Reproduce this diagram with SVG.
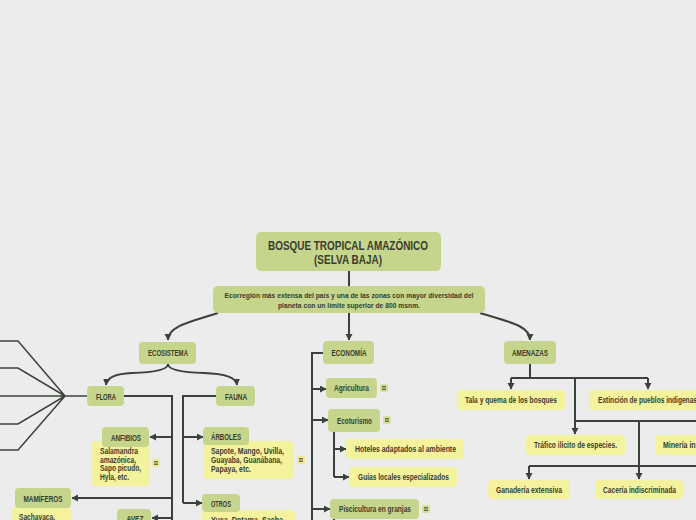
<svg xmlns="http://www.w3.org/2000/svg" width="696" height="520" viewBox="0 0 696 520">
<style>
text{font-family:"Liberation Sans Narrow","Liberation Sans",Arial,sans-serif;font-weight:bold;fill:#383d30;}
.g{fill:#c6d58c;}
.y{fill:#f4f29d;}
.ln{fill:none;stroke:#3a423a;stroke-width:2;}
.fan{fill:none;stroke:#3a423a;stroke-width:1.5;}
.t{font-size:12.8px;}
.d{font-size:7.4px;}
.l{font-size:8.2px;}
.n{font-size:8.2px;}
.ig{fill:#d5df9c;}
.iy{fill:#eeeb95;}
.il{stroke:#4a4f3f;stroke-width:0.8;}
</style>
<defs>
<marker id="a" markerUnits="userSpaceOnUse" markerWidth="8" markerHeight="8" refX="6" refY="3.5" orient="auto">
<path d="M0,0 L6.5,3.5 L0,7 z" fill="#3a423a"/>
</marker>
</defs>
<rect width="696" height="520" fill="#ececec"/>

<g id="connectors">
<path class="ln" d="M349 271 V286"/>
<path class="ln" d="M349 313 V340" marker-end="url(#a)"/>
<path class="ln" d="M218 313 C190 322 168 326 168 340" marker-end="url(#a)"/>
<path class="ln" d="M480 313 C510 322 530 326 530 340" marker-end="url(#a)"/>
<path class="ln" d="M168 364 Q168 372 132 373 Q107 374 106 385" marker-end="url(#a)"/>
<path class="ln" d="M168 364 Q168 372 204 373 Q236 374 237 385" marker-end="url(#a)"/>
<path class="fan" d="M0 341 H18 L65 396 M0 368 H18 L65 396 M0 396 H87 M0 424 H18 L65 396 M0 450 H18 L65 396"/>
<path class="ln" d="M124 396 H172 V520"/>
<path class="ln" d="M172 437 H150" marker-end="url(#a)"/>
<path class="ln" d="M172 498 H72" marker-end="url(#a)"/>
<path class="ln" d="M172 518 H152" marker-end="url(#a)"/>
<path class="ln" d="M216 396 H183 V503"/>
<path class="ln" d="M183 437 H203" marker-end="url(#a)"/>
<path class="ln" d="M183 503 H202" marker-end="url(#a)"/>
<path class="ln" d="M323 353 H312 V520"/>
<path class="ln" d="M312 389 H326" marker-end="url(#a)"/>
<path class="ln" d="M312 420 H328" marker-end="url(#a)"/>
<path class="ln" d="M312 509 H330" marker-end="url(#a)"/>
<path class="ln" d="M334 432 V477"/>
<path class="ln" d="M334 449 H346" marker-end="url(#a)"/>
<path class="ln" d="M334 477 H349" marker-end="url(#a)"/>
<path class="ln" d="M334 519 V520"/>
<path class="ln" d="M530 364 V378 M511 378 H648"/>
<path class="ln" d="M511 378 V389" marker-end="url(#a)"/>
<path class="ln" d="M648 378 V389" marker-end="url(#a)"/>
<path class="ln" d="M575 378 V434" marker-end="url(#a)"/>
<path class="ln" d="M575 421 H700"/>
<path class="ln" d="M639 421 V479" marker-end="url(#a)"/>
<path class="ln" d="M529 466 H700"/>
<path class="ln" d="M529 466 V479" marker-end="url(#a)"/>
</g>

<g id="title">
<rect class="g" x="256" y="232" width="185" height="39" rx="5"/>
<text class="t" x="348" y="250" text-anchor="middle" textLength="160" lengthAdjust="spacingAndGlyphs">BOSQUE TROPICAL AMAZÓNICO</text>
<text class="t" x="348" y="264" text-anchor="middle" textLength="68" lengthAdjust="spacingAndGlyphs">(SELVA BAJA)</text>
</g>
<g id="desc">
<rect class="g" x="213" y="286" width="272" height="27" rx="5"/>
<text class="d" x="349" y="298" text-anchor="middle" textLength="249" lengthAdjust="spacingAndGlyphs">Ecorregión más extensa del país y una de las zonas con mayor diversidad del</text>
<text class="d" x="349" y="307.5" text-anchor="middle" textLength="142" lengthAdjust="spacingAndGlyphs">planeta con un límite superior de 800 msnm.</text>
</g>
<g id="ecosistema">
<rect class="g" x="139" y="342" width="57" height="22" rx="4"/>
<text class="l" x="168" y="356" text-anchor="middle" textLength="40" lengthAdjust="spacingAndGlyphs">ECOSISTEMA</text>
</g>
<g id="economia">
<rect class="g" x="323" y="341" width="51" height="23" rx="4"/>
<text class="l" x="349" y="356" text-anchor="middle" textLength="35" lengthAdjust="spacingAndGlyphs">ECONOMÍA</text>
</g>
<g id="amenazas">
<rect class="g" x="504" y="341" width="52" height="23" rx="4"/>
<text class="l" x="530" y="356" text-anchor="middle" textLength="36" lengthAdjust="spacingAndGlyphs">AMENAZAS</text>
</g>
<g id="flora">
<rect class="g" x="87" y="386" width="37" height="20" rx="4"/>
<text class="l" x="106" y="399.5" text-anchor="middle" textLength="20" lengthAdjust="spacingAndGlyphs">FLORA</text>
</g>
<g id="fauna">
<rect class="g" x="216" y="386" width="39" height="20" rx="4"/>
<text class="l" x="236" y="399.5" text-anchor="middle" textLength="22" lengthAdjust="spacingAndGlyphs">FAUNA</text>
</g>
<g id="anfibios">
<rect class="y" x="91" y="441" width="59" height="45" rx="5"/>
<rect class="g" x="102" y="427" width="47" height="20" rx="4"/>
<text class="l" x="126" y="440.5" text-anchor="middle" textLength="30" lengthAdjust="spacingAndGlyphs">ANFIBIOS</text>
<text class="n" x="100" y="454" textLength="38" lengthAdjust="spacingAndGlyphs">Salamandra</text>
<text class="n" x="100" y="463" textLength="36" lengthAdjust="spacingAndGlyphs">amazónica,</text>
<text class="n" x="100" y="471" textLength="41" lengthAdjust="spacingAndGlyphs">Sapo picudo,</text>
<text class="n" x="100" y="479.5" textLength="29" lengthAdjust="spacingAndGlyphs">Hyla, etc.</text>
<rect class="iy" x="152" y="459" width="8" height="8" rx="1.5"/>
<path class="il" d="M154 461.5 H158 M154 463 H158 M154 464.5 H158"/>
</g>
<g id="mamiferos">
<rect class="y" x="11" y="507" width="60" height="20" rx="5"/>
<rect class="g" x="15" y="488" width="56" height="20" rx="4"/>
<text class="l" x="43" y="501.5" text-anchor="middle" textLength="39" lengthAdjust="spacingAndGlyphs">MAMÍFEROS</text>
<text class="n" x="19" y="520" textLength="36" lengthAdjust="spacingAndGlyphs">Sachavaca,</text>
</g>
<g id="avez">
<rect class="g" x="117" y="509" width="34" height="20" rx="4"/>
<text class="l" x="135" y="522" text-anchor="middle" textLength="17" lengthAdjust="spacingAndGlyphs">AVEZ</text>
</g>
<g id="arboles">
<rect class="y" x="203" y="441" width="91" height="38" rx="5"/>
<rect class="g" x="203" y="427" width="46" height="18" rx="4"/>
<text class="l" x="226" y="440" text-anchor="middle" textLength="30" lengthAdjust="spacingAndGlyphs">ÁRBOLES</text>
<text class="n" x="211" y="454" textLength="73" lengthAdjust="spacingAndGlyphs">Sapote, Mango, Uvilla,</text>
<text class="n" x="211" y="463" textLength="71" lengthAdjust="spacingAndGlyphs">Guayaba, Guanábana,</text>
<text class="n" x="211" y="471.5" textLength="40" lengthAdjust="spacingAndGlyphs">Papaya, etc.</text>
<rect class="iy" x="297" y="456" width="8" height="8" rx="1.5"/>
<path class="il" d="M299 458.5 H303 M299 460 H303 M299 461.5 H303"/>
</g>
<g id="otros">
<rect class="y" x="202" y="510" width="93" height="20" rx="5"/>
<rect class="g" x="202" y="494" width="38" height="18" rx="4"/>
<text class="l" x="221" y="507" text-anchor="middle" textLength="20" lengthAdjust="spacingAndGlyphs">OTROS</text>
<text class="n" x="211" y="523" textLength="72" lengthAdjust="spacingAndGlyphs">Yuca, Dotama, Sacha</text>
</g>
<g id="agricultura">
<rect class="g" x="326" y="378" width="51" height="20" rx="4"/>
<text class="l" x="351.5" y="391" text-anchor="middle" textLength="35" lengthAdjust="spacingAndGlyphs">Agricultura</text>
<rect class="ig" x="380" y="384" width="8" height="8" rx="1.5"/>
<path class="il" d="M382 386.5 H386 M382 388 H386 M382 389.5 H386"/>
</g>
<g id="ecoturismo">
<rect class="g" x="328" y="409" width="52" height="23" rx="4"/>
<text class="l" x="354.5" y="423.5" text-anchor="middle" textLength="35" lengthAdjust="spacingAndGlyphs">Ecoturismo</text>
<rect class="ig" x="383" y="416" width="8" height="8" rx="1.5"/>
<path class="il" d="M385 418.5 H389 M385 420 H389 M385 421.5 H389"/>
</g>
<g id="hoteles">
<rect class="y" x="346" y="439" width="118" height="20" rx="4"/>
<text class="l" x="405.5" y="452" text-anchor="middle" textLength="101" lengthAdjust="spacingAndGlyphs">Hoteles adaptados al ambiente</text>
</g>
<g id="guias">
<rect class="y" x="349" y="467" width="108" height="20" rx="4"/>
<text class="l" x="403.5" y="480" text-anchor="middle" textLength="91" lengthAdjust="spacingAndGlyphs">Guías locales especializados</text>
</g>
<g id="piscicultura">
<rect class="g" x="330" y="499" width="89" height="20" rx="4"/>
<text class="l" x="375" y="512" text-anchor="middle" textLength="72" lengthAdjust="spacingAndGlyphs">Piscicultura en granjas</text>
<rect class="ig" x="422" y="505" width="8" height="8" rx="1.5"/>
<path class="il" d="M424 507.5 H428 M424 509 H428 M424 510.5 H428"/>
</g>
<g id="tala">
<rect class="y" x="457" y="390" width="108" height="20" rx="4"/>
<text class="l" x="511" y="403" text-anchor="middle" textLength="92" lengthAdjust="spacingAndGlyphs">Tala y quema de los bosques</text>
</g>
<g id="extincion">
<rect class="y" x="589" y="390" width="120" height="20" rx="4"/>
<text class="l" x="598" y="403" textLength="99" lengthAdjust="spacingAndGlyphs">Extinción de pueblos indigenas</text>
</g>
<g id="trafico">
<rect class="y" x="526" y="435" width="99" height="20" rx="4"/>
<text class="l" x="575.5" y="448" text-anchor="middle" textLength="83" lengthAdjust="spacingAndGlyphs">Tráfico ilícito de especies.</text>
</g>
<g id="mineria">
<rect class="y" x="655" y="435" width="60" height="20" rx="4"/>
<text class="l" x="663" y="448" textLength="54" lengthAdjust="spacingAndGlyphs">Minería informal</text>
</g>
<g id="ganaderia">
<rect class="y" x="488" y="480" width="82" height="19" rx="4"/>
<text class="l" x="529" y="493" text-anchor="middle" textLength="66" lengthAdjust="spacingAndGlyphs">Ganadería extensiva</text>
</g>
<g id="caceria">
<rect class="y" x="595" y="480" width="88" height="19" rx="4"/>
<text class="l" x="639.5" y="493" text-anchor="middle" textLength="73" lengthAdjust="spacingAndGlyphs">Cacería indiscriminada</text>
</g>
</svg>
